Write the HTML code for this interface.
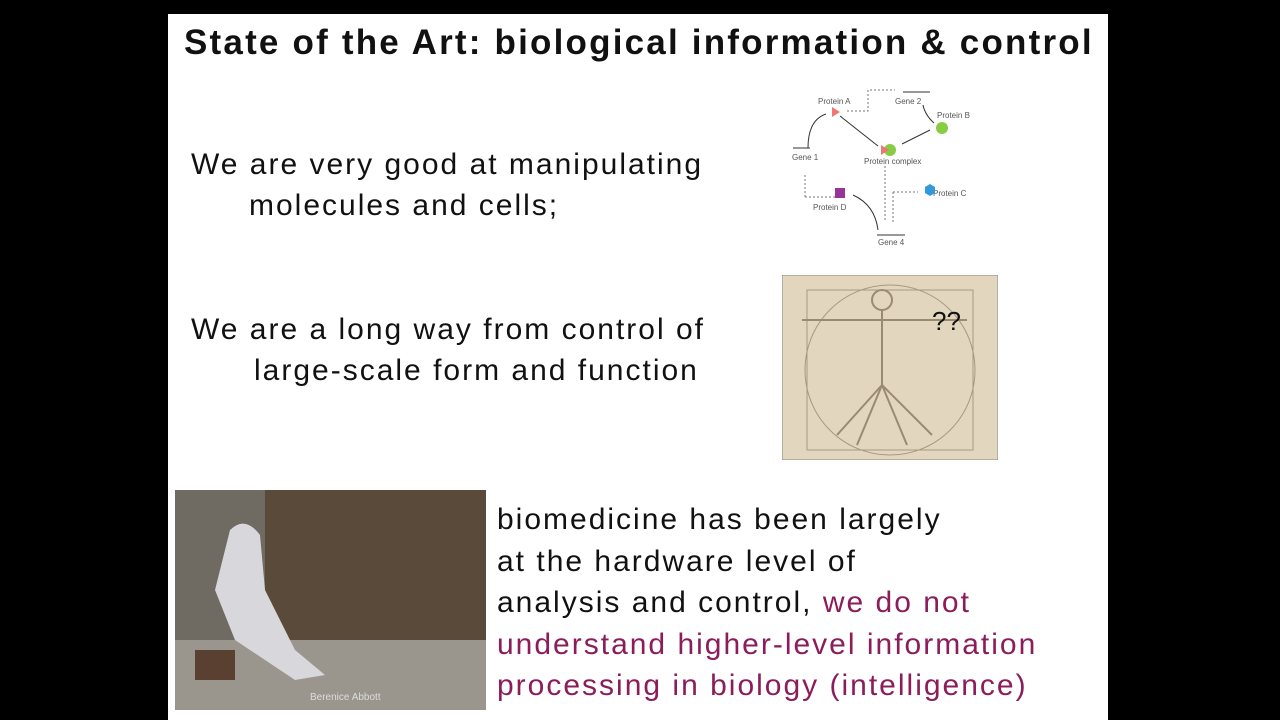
<!DOCTYPE html>
<html><head><meta charset="utf-8"><style>
body{margin:0;width:1280px;height:720px;background:#000;overflow:hidden;font-family:"Liberation Sans",sans-serif}
#slide{position:absolute;left:168px;top:14px;width:940px;height:706px;background:#fff}
.t{position:absolute;color:#111;white-space:nowrap;font-size:30px;letter-spacing:2px}
.m{color:#8b1d5a}
</style></head><body>
<div id="slide">
<div class="t" style="left:16px;top:9px;font-size:35px;font-weight:bold;letter-spacing:2.2px">State of the Art: biological information &amp; control</div>
<div class="t" style="left:23px;top:130px;line-height:41px">We are very good at manipulating<br><span style="padding-left:58px">molecules and cells;</span></div>
<div class="t" style="left:23px;top:295px;line-height:41px">We are a long way from control of<br><span style="padding-left:63px">large-scale form and function</span></div>
<div class="t" style="left:329px;top:485px;line-height:41.5px">biomedicine has been largely<br>at the hardware level of<br>analysis and control, <span class="m">we do not</span><br><span class="m">understand higher-level information</span><br><span class="m">processing in biology (intelligence)</span></div>
<svg style="position:absolute;left:612px;top:66px" width="220" height="170" font-size="8" fill="#555" font-family="Liberation Sans">
<g stroke="#777" fill="none" stroke-dasharray="2,2"><path d="M67 31 H88 V10 H115"/><path d="M25 117 V95"/><path d="M25 117 H55"/><path d="M105 86 V142"/><path d="M113 112 H138"/><path d="M113 112 V142"/></g>
<g stroke="#333" fill="none"><path d="M28 68 Q28 40 46 34"/><path d="M60 36 L98 66"/><path d="M150 50 L122 64"/><path d="M143 25 Q145 35 154 43"/><path d="M98 150 Q95 125 73 115"/><path d="M13 68 H30 M123 12 H150 M97 155 H125"/></g>
<text x="38" y="24">Protein A</text><text x="115" y="24">Gene 2</text><text x="157" y="38">Protein B</text><text x="12" y="80">Gene 1</text><text x="84" y="84">Protein complex</text><text x="153" y="116">Protein C</text><text x="33" y="130">Protein D</text><text x="98" y="165">Gene 4</text>
<polygon points="52,27 52,37 60,32" fill="#e77"/><circle cx="162" cy="48" r="6" fill="#8c4"/><circle cx="110" cy="70" r="6" fill="#8c4"/><polygon points="101,65 101,75 109,70" fill="#e77"/>
<rect x="55" y="108" width="10" height="10" fill="#939"/><polygon points="145,107 150,104 155,107 155,113 150,116 145,113" fill="#39d"/>
</svg>
<svg style="position:absolute;left:614px;top:261px" width="216" height="185">
<rect width="216" height="185" fill="#e2d6bf" stroke="#888"/>
<circle cx="108" cy="95" r="85" fill="none" stroke="#a89880"/><rect x="25" y="15" width="166" height="160" fill="none" stroke="#a89880"/>
<g stroke="#9a8a70" fill="none" stroke-width="2"><circle cx="100" cy="25" r="10"/><path d="M100 35 V110 M20 45 H185 M100 110 L75 170 M100 110 L125 170 M100 110 L55 160 M100 110 L150 160"/></g>
<text x="150" y="55" font-size="26" font-family="Liberation Sans" fill="#111">??</text></svg>
<svg style="position:absolute;left:7px;top:476px" width="311" height="220">
<rect width="311" height="220" fill="#6f6a62"/><rect x="90" y="0" width="221" height="150" fill="#5a4a3a"/>
<rect x="0" y="150" width="311" height="70" fill="#9a968e"/>
<path d="M55 40 Q70 25 85 45 L90 100 L120 160 L150 185 L120 190 L60 150 L40 100 Z" fill="#d8d8dc"/>
<rect x="20" y="160" width="40" height="30" fill="#5a4030"/>
<text x="135" y="210" font-size="10" fill="#ddd" font-family="Liberation Sans">Berenice Abbott</text></svg>
</div>
</body></html>
